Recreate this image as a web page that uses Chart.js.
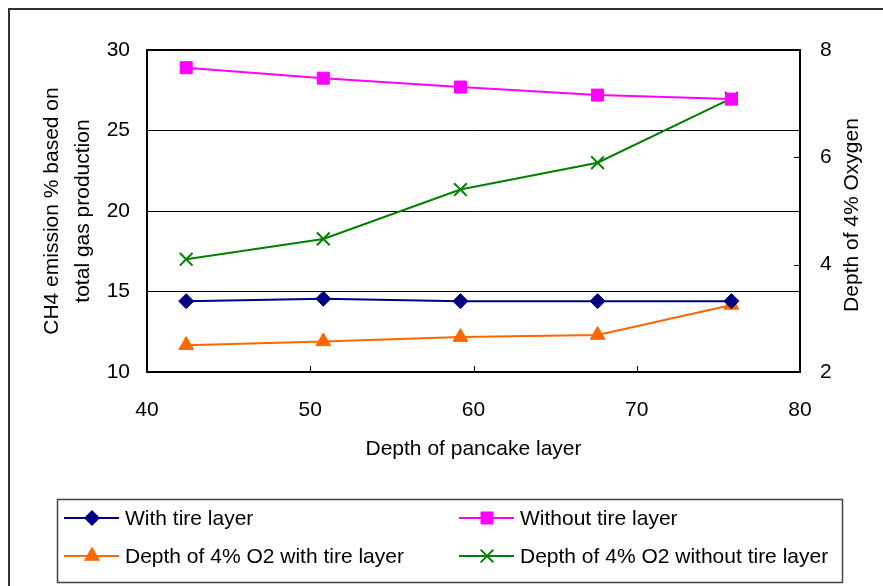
<!DOCTYPE html>
<html>
<head>
<meta charset="utf-8">
<script src="https://cdn.jsdelivr.net/npm/chart.js@4.4.1/dist/chart.umd.min.js"></script>
<style>
  html, body { margin: 0; padding: 0; background: #fff; }
  #wrap { width: 883px; height: 586px; }
</style>
</head>
<body>
<div id="wrap"><canvas id="chart" width="883" height="586"></canvas></div>
<script>
// depth of pancake layer (x) and the four measured series
const depth = [42.4, 50.8, 59.2, 67.6, 75.8];
const withTire = [14.4, 14.55, 14.4, 14.4, 14.4];
const withoutTire = [28.9, 28.25, 27.7, 27.2, 26.95];
const o2WithTire = [2.5, 2.57, 2.65, 2.69, 3.25];
const o2WithoutTire = [4.1, 4.48, 5.4, 5.9, 7.1];

const xTicks = [40, 50, 60, 70, 80];
const leftTicks = [10, 15, 20, 25, 30];
const rightTicks = [2, 4, 6, 8];

const labels = ['With tire layer', 'Without tire layer', 'Depth of 4% O2 with tire layer', 'Depth of 4% O2 without tire layer'];

const FONT = '"Liberation Sans", Arial, sans-serif';

function pts(ys) { return depth.map((x, i) => ({ x, y: ys[i] })); }

function series(label, ys, color, style, radius, axis) {
    return {
        label,
        data: pts(ys),
        yAxisID: axis,
        borderColor: color,
        backgroundColor: color,
        borderWidth: 2,
        pointStyle: style,
        pointRadius: radius,
        pointHoverRadius: radius,
        pointBorderWidth: style === 'crossRot' ? 2 : 1,
        pointBorderColor: color,
        pointBackgroundColor: color,
        tension: 0
    };
}

// frame, plot border, inward tick marks, right title, legend box
const decor = {
    id: 'decor',
    beforeDraw(chart) {
        const ctx = chart.ctx;
        ctx.save();
        ctx.fillStyle = '#fff';
        ctx.fillRect(0, 0, chart.width, chart.height);
        ctx.strokeStyle = '#333';
        ctx.lineWidth = 2;
        ctx.beginPath();
        ctx.moveTo(9, chart.height);
        ctx.lineTo(9, 9);
        ctx.lineTo(chart.width, 9);
        ctx.stroke();
        ctx.restore();
    },
    beforeDatasetsDraw(chart) {
        const { ctx, chartArea: a, scales } = chart;
        ctx.save();
        ctx.strokeStyle = '#000';
        ctx.lineWidth = 2;
        ctx.strokeRect(a.left, a.top, a.right - a.left, a.bottom - a.top);
        ctx.lineWidth = 1;
        ctx.beginPath();
        xTicks.slice(1, -1).forEach(v => {
            const x = Math.round(scales.x.getPixelForValue(v)) + 0.5;
            ctx.moveTo(x, a.bottom);
            ctx.lineTo(x, a.bottom - 6);
        });
        rightTicks.slice(1, -1).forEach(v => {
            const y = Math.round(scales.y1.getPixelForValue(v)) + 0.5;
            ctx.moveTo(a.right, y);
            ctx.lineTo(a.right - 6, y);
        });
        ctx.stroke();
        ctx.restore();
    },
    afterDraw(chart) {
        const { ctx, chartArea: a } = chart;
        ctx.save();
        // right axis title, reading bottom to top
        ctx.fillStyle = '#000';
        ctx.font = '21px ' + FONT;
        ctx.textAlign = 'center';
        ctx.textBaseline = 'middle';
        ctx.translate(852, (a.top + a.bottom) / 2 + 4);
        ctx.rotate(-Math.PI / 2);
        ctx.fillText('Depth of 4% Oxygen', 0, 0);
        ctx.restore();

        // legend
        ctx.save();
        ctx.strokeStyle = '#444';
        ctx.lineWidth = 1.5;
        ctx.strokeRect(57.5, 499.5, 785, 83);
        const cols = [64, 459];
        const rows = [518, 556];
        chart.data.datasets.forEach((ds, i) => {
            const x0 = cols[i % 2];
            const y = rows[Math.floor(i / 2)];
            ctx.strokeStyle = ds.borderColor;
            ctx.fillStyle = ds.backgroundColor;
            ctx.lineWidth = 2;
            ctx.beginPath();
            ctx.moveTo(x0, y);
            ctx.lineTo(x0 + 55, y);
            ctx.stroke();
            ctx.lineWidth = ds.pointBorderWidth;
            Chart.helpers.drawPoint(ctx, {
                pointStyle: ds.pointStyle,
                radius: ds.pointRadius,
                rotation: 0,
                borderWidth: ds.pointBorderWidth
            }, x0 + 28, y);
            ctx.fillStyle = '#000';
            ctx.font = '21px ' + FONT;
            ctx.textAlign = 'left';
            ctx.textBaseline = 'middle';
            ctx.fillText(ds.label, x0 + 61, y + 1);
        });
        ctx.restore();
    }
};

new Chart(document.getElementById('chart').getContext('2d'), {
    type: 'line',
    data: {
        datasets: [
            series(labels[0], withTire, '#000080', 'rectRot', 7.5, 'y'),
            series(labels[1], withoutTire, '#ff00ff', 'rect', 8.5, 'y'),
            series(labels[2], o2WithTire, '#ff6600', 'triangle', 8.5, 'y1'),
            series(labels[3], o2WithoutTire, '#008000', 'crossRot', 9, 'y1')
        ]
    },
    options: {
        responsive: false,
        animation: false,
        events: [],
        layout: { padding: { top: 50, left: 8, right: 0, bottom: 111 } },
        plugins: { legend: { display: false }, tooltip: { enabled: false } },
        scales: {
            x: {
                type: 'linear',
                min: 40, max: 80,
                afterFit: s => { s.height = 103; },
                afterBuildTicks: s => { s.ticks = xTicks.map(v => ({ value: v })); },
                grid: { display: false },
                border: { display: false },
                ticks: { color: '#000', padding: 18, font: { family: FONT, size: 21 } },
                title: {
                    display: true,
                    text: 'Depth of pancake layer',
                    color: '#000',
                    padding: { top: 0, bottom: 13 },
                    font: { family: FONT, size: 21 }
                }
            },
            y: {
                position: 'left',
                min: 10, max: 30,
                afterFit: s => { s.width = 139; },
                afterBuildTicks: s => { s.ticks = leftTicks.map(v => ({ value: v })); },
                grid: { color: '#000', lineWidth: 1, drawTicks: false },
                border: { display: false },
                ticks: { color: '#000', padding: 17, font: { family: FONT, size: 21 } },
                title: {
                    display: true,
                    text: ['CH4 emission % based on', 'total gas production'],
                    color: '#000',
                    padding: { top: 28, bottom: 0 },
                    font: { family: FONT, size: 21, lineHeight: 1.5 }
                }
            },
            y1: {
                position: 'right',
                min: 2, max: 8,
                afterFit: s => { s.width = 83; },
                afterBuildTicks: s => { s.ticks = rightTicks.map(v => ({ value: v })); },
                grid: { display: false },
                border: { display: false },
                ticks: { color: '#000', padding: 12, font: { family: FONT, size: 21 } }
            }
        }
    },
    plugins: [decor]
});
</script>
</body>
</html>
